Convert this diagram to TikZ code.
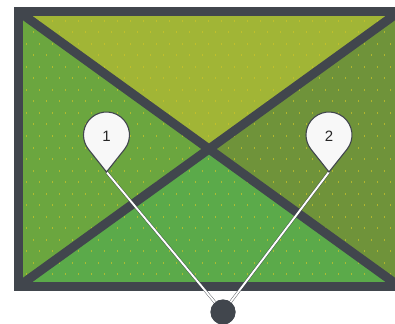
\documentclass[tikz,border=0pt]{standalone}
\usepackage{fontspec}
\setmainfont{Liberation Sans}
\definecolor{framec}{RGB}{65,70,77}
\definecolor{ctop}{RGB}{161,181,54}
\definecolor{cleft}{RGB}{107,166,63}
\definecolor{cright}{RGB}{111,147,58}
\definecolor{cbottom}{RGB}{91,170,74}
\definecolor{dotc}{RGB}{205,196,40}
\definecolor{pinfill}{RGB}{248,248,248}
\begin{document}
\begin{tikzpicture}[x=1pt,y=-1pt,
  frameline/.style={draw=framec,line width=9pt},
  dotmark/.style={fill=dotc,opacity=0.7},
  pinbody/.style={fill=pinfill,draw=framec,line width=1.1pt},
  pinlabel/.style={inner sep=0pt,text=black!85,font=\fontsize{15}{15}\selectfont},
  linkdark/.style={draw=framec,line width=2.7pt},
  linkwhite/.style={draw=white,line width=1.9pt},
  hubstyle/.style={circle,fill=framec,minimum size=25pt,inner sep=0pt}]
\useasboundingbox (0,0) rectangle (395,323);
\clip (0,0) rectangle (395,323);
\coordinate (TL) at (18.5,11.5);
\coordinate (TR) at (399.5,11.5);
\coordinate (BL) at (18.5,286.5);
\coordinate (BR) at (399.5,286.5);
\coordinate (C) at (209,149);
% triangles
\fill[ctop] (TL) -- (TR) -- (C) -- cycle;
\fill[cleft] (TL) -- (BL) -- (C) -- cycle;
\fill[cright] (TR) -- (BR) -- (C) -- cycle;
\fill[cbottom] (BL) -- (BR) -- (C) -- cycle;
% dots
\begin{scope}
\clip (23,16) rectangle (395,282);
\foreach \i [evaluate=\i as \off using {mod(\i,2)*6.5}] in {0,...,23}{
  \foreach \j in {0,...,28}{
    \fill[dotmark] ({26+\off+\j*13},{20+\i*11.5}) rectangle ++(1.2,2);
  }
}
\end{scope}
% diagonals and frame
\draw[frameline] (TL) -- (BR);
\draw[frameline] (BL) -- (TR);
\draw[frameline] (TL) rectangle (BR);
% hub and connectors
\node[hubstyle] (hub) at (223,312) {};
\coordinate (t1) at (106.5,172);
\coordinate (t2) at (329,172);
\draw[linkdark] (t1) -- (hub.center);
\draw[linkdark] (t2) -- (hub.center);
\draw[linkwhite] (t1) -- (hub.center);
\draw[linkwhite] (t2) -- (hub.center);
\node[hubstyle] at (hub) {};
% pins
\path[pinbody] (t1) -- (106.5+18.02,135+14.29) arc[start angle=38.4,end angle=-218.4,radius=23] -- cycle;
\path[pinbody] (t2) -- (329+18.02,135+14.29) arc[start angle=38.4,end angle=-218.4,radius=23] -- cycle;
\node[pinlabel] (p1) at (106.5,136) {1};
\node[pinlabel] (p2) at (329,136) {2};
\end{tikzpicture}
\end{document}
